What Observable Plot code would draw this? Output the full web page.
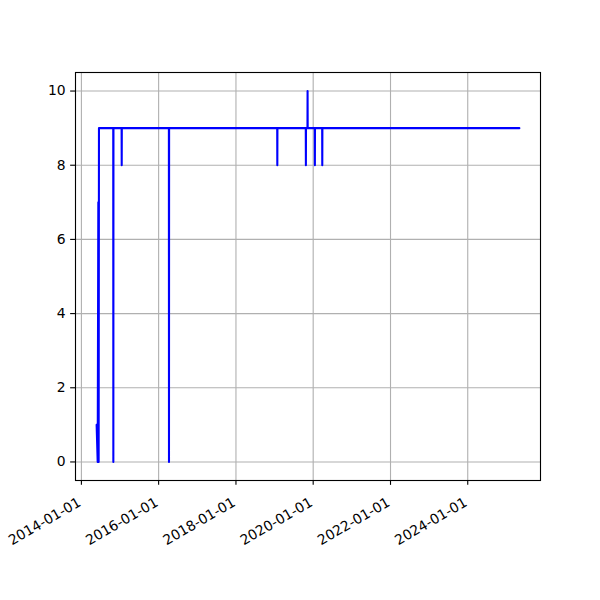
<!DOCTYPE html>
<html><head><meta charset="utf-8">
<script src="https://cdn.jsdelivr.net/npm/d3@7"></script>
<script src="https://cdn.jsdelivr.net/npm/@observablehq/plot@0.6"></script>
<style>body{margin:0;background:#fff}</style>
</head><body><div id="chart"></div>
<script>
const dates = [
  "2014-05-25","2014-06-04","2014-06-10","2014-06-13","2014-06-16",
  "2014-10-29","2014-10-30","2014-10-31",
  "2015-01-16","2015-01-17","2015-01-18",
  "2016-04-07","2016-04-08","2016-04-09",
  "2019-01-26","2019-01-27","2019-01-28",
  "2019-10-23","2019-10-24","2019-10-25",
  "2019-11-08","2019-11-09","2019-11-10",
  "2020-01-16","2020-01-17","2020-01-18",
  "2020-03-26","2020-03-27","2020-03-28",
  "2025-05-03"
];
const values = [
  1,0,7,0,9,
  9,0,9,
  9,8,9,
  9,0,9,
  9,8,9,
  9,8,9,
  9,10,9,
  9,8,9,
  9,8,9,
  9
];
const xTickLabels = ["2014-01-01","2016-01-01","2018-01-01","2020-01-01","2022-01-01","2024-01-01"];
const yTicks = [0,2,4,6,8,10];

const data = dates.map((d,i)=>({date:new Date(d), value:values[i]}));
const xTickDates = xTickLabels.map(d=>new Date(d));
const [x0,x1] = d3.extent(data, d=>d.date);
const pad = (x1-x0)*0.05;
const grid = {stroke:"#b0b0b0", strokeOpacity:1, strokeWidth:1.11};

const chart = Plot.plot({
  width:600, height:600,
  marginLeft:75, marginRight:60, marginTop:72, marginBottom:120,
  style:{fontFamily:"DejaVu Sans", fontSize:"13.9px", background:"white", color:"black"},
  x:{type:"utc", domain:[new Date(+x0-pad), new Date(+x1+pad)]},
  y:{domain:[-0.5,10.5]},
  marks:[
    Plot.gridX(xTickDates, grid),
    Plot.gridY(yTicks, grid),
    Plot.line(data,{x:"date", y:"value", stroke:"blue", strokeWidth:2.08}),
    Plot.frame({stroke:"black", strokeWidth:1.11}),
    Plot.axisY(yTicks,{tickSize:4.86, tickPadding:5, stroke:"black", strokeWidth:1.11, fill:"black", fontSize:13.9, label:null}),
    Plot.axisX(xTickDates,{tickSize:4.86, stroke:"black", strokeWidth:1.11, tickFormat:()=>"", label:null}),
    Plot.text(xTickLabels,{x:d=>new Date(d), text:d=>d, frameAnchor:"bottom", dx:-4.5, dy:16, rotate:-30, textAnchor:"end", lineAnchor:"top", fontSize:13.9, fill:"black"})
  ]
});
document.getElementById("chart").appendChild(chart);
</script>
</body></html>
